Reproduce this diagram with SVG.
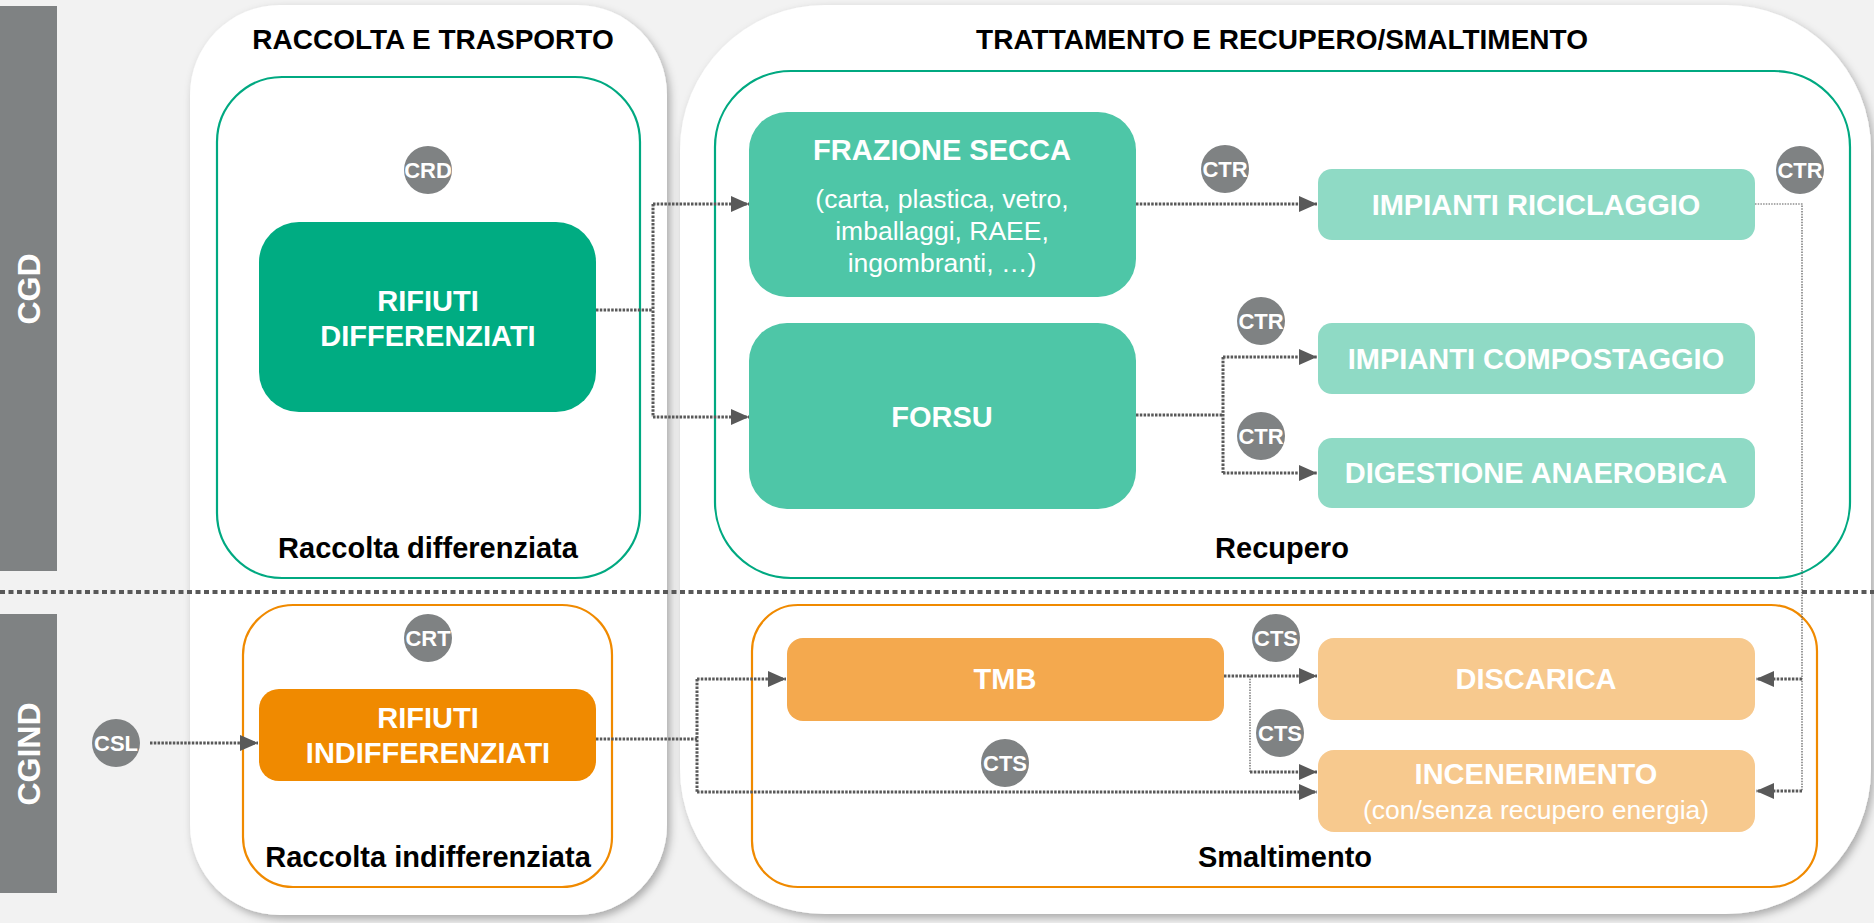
<svg xmlns="http://www.w3.org/2000/svg" width="1874" height="923" viewBox="0 0 1874 923">
<defs>
<style>
text{font-family:"Liberation Sans",Arial,sans-serif;}
.b{font-weight:bold;}
.w{fill:#ffffff;}
.k{fill:#000000;}
.bar{fill:#7f8283;}
.panel{fill:#ffffff;filter:url(#sh);}
.gbox{fill:none;stroke:#00a981;stroke-width:2.2;}
.obox{fill:none;stroke:#f08a00;stroke-width:2.2;}
.c{fill:#7f8283;}
.ct{font-weight:bold;font-size:22px;fill:#ffffff;text-anchor:middle;}
.lab{font-weight:bold;font-size:29px;text-anchor:middle;}
.sub{font-size:26.5px;fill:#ffffff;text-anchor:middle;}
.con{fill:none;stroke:#595959;stroke-width:3;stroke-dasharray:2.5 1.3;}
.thin{fill:none;stroke:#595959;stroke-width:1.2;stroke-dasharray:1.5 1.2;}
.arr{marker-end:url(#ah);}
</style>
<filter id="sh" x="-5%" y="-5%" width="112%" height="112%">
<feDropShadow dx="3" dy="4" stdDeviation="4" flood-color="#000000" flood-opacity="0.3"/>
</filter>
<marker id="ah" markerUnits="userSpaceOnUse" markerWidth="18" markerHeight="16" viewBox="0 0 18 16" refX="18" refY="8" orient="auto">
<path d="M0,0 L18,8 L0,16 Z" fill="#595959"/>
</marker>
</defs>
<rect x="0" y="0" width="1874" height="923" fill="#f2f2f2"/>

<g id="lane-cgd">
<rect class="bar" x="0" y="6" width="57" height="565"/>
<text class="b w" font-size="32" text-anchor="middle" transform="rotate(-90 29 289)" x="29" y="300">CGD</text>
</g>
<g id="lane-cgind">
<rect class="bar" x="0" y="614" width="57" height="279"/>
<text class="b w" font-size="32" text-anchor="middle" transform="rotate(-90 29 754)" x="29" y="765">CGIND</text>
</g>

<g id="panel-raccolta">
<rect class="panel" x="190" y="5" width="477" height="910" rx="90"/>
<text class="b k" font-size="28" text-anchor="middle" x="433" y="49">RACCOLTA E TRASPORTO</text>
</g>
<g id="panel-trattamento">
<rect class="panel" x="680" y="5" width="1191" height="909" rx="145"/>
<text class="b k" font-size="28" text-anchor="middle" x="1282" y="49">TRATTAMENTO E RECUPERO/SMALTIMENTO</text>
</g>

<g id="group-raccolta-differenziata">
<rect class="gbox" x="217" y="77" width="423" height="501" rx="65"/>
<text class="lab k" x="428" y="558">Raccolta differenziata</text>
</g>
<g id="group-recupero">
<rect class="gbox" x="715" y="71" width="1135" height="507" rx="76"/>
<text class="lab k" x="1282" y="558">Recupero</text>
</g>
<g id="group-raccolta-indifferenziata">
<rect class="obox" x="243" y="605" width="369" height="282" rx="50"/>
<text class="lab k" x="428" y="867">Raccolta indifferenziata</text>
</g>
<g id="group-smaltimento">
<rect class="obox" x="752" y="605" width="1065" height="282" rx="46"/>
<text class="lab k" x="1285" y="867">Smaltimento</text>
</g>

<g id="node-rifiuti-differenziati">
<rect x="259" y="222" width="337" height="190" rx="40" fill="#00ac82"/>
<text class="lab w" x="428" y="311">RIFIUTI</text>
<text class="lab w" x="428" y="346">DIFFERENZIATI</text>
</g>
<g id="node-frazione-secca">
<rect x="749" y="112" width="387" height="185" rx="38" fill="#4ec6a7"/>
<text class="lab w" x="942" y="160">FRAZIONE SECCA</text>
<text class="sub" x="942" y="208">(carta, plastica, vetro,</text>
<text class="sub" x="942" y="240">imballaggi, RAEE,</text>
<text class="sub" x="942" y="272">ingombranti, …)</text>
</g>
<g id="node-forsu">
<rect x="749" y="323" width="387" height="186" rx="38" fill="#4ec6a7"/>
<text class="lab w" x="942" y="427">FORSU</text>
</g>
<g id="node-riciclaggio">
<rect x="1318" y="169" width="437" height="71" rx="14" fill="#8fdac5"/>
<text class="lab w" x="1536" y="215">IMPIANTI RICICLAGGIO</text>
</g>
<g id="node-compostaggio">
<rect x="1318" y="323" width="437" height="71" rx="14" fill="#8fdac5"/>
<text class="lab w" x="1536" y="369">IMPIANTI COMPOSTAGGIO</text>
</g>
<g id="node-digestione">
<rect x="1318" y="438" width="437" height="70" rx="14" fill="#8fdac5"/>
<text class="lab w" x="1536" y="483">DIGESTIONE ANAEROBICA</text>
</g>
<g id="node-rifiuti-indifferenziati">
<rect x="259" y="689" width="337" height="92" rx="20" fill="#f08a00"/>
<text class="lab w" x="428" y="728">RIFIUTI</text>
<text class="lab w" x="428" y="763">INDIFFERENZIATI</text>
</g>
<g id="node-tmb">
<rect x="787" y="638" width="437" height="83" rx="16" fill="#f4a94e"/>
<text class="lab w" x="1005" y="689">TMB</text>
</g>
<g id="node-discarica">
<rect x="1318" y="638" width="437" height="82" rx="16" fill="#f7c98e"/>
<text class="lab w" x="1536" y="689">DISCARICA</text>
</g>
<g id="node-incenerimento">
<rect x="1318" y="750" width="437" height="82" rx="16" fill="#f7c98e"/>
<text class="lab w" x="1536" y="784">INCENERIMENTO</text>
<text class="sub" font-size="28" x="1536" y="819">(con/senza recupero energia)</text>
</g>

<g id="connectors">
<path class="con" d="M596,310 H653"/>
<path class="con" d="M653,204 V417"/>
<path class="con arr" d="M653,204 H749"/>
<path class="con arr" d="M653,417 H749"/>
<path class="con arr" d="M1136,204 H1317"/>
<path class="con" d="M1136,415 H1223"/>
<path class="con" d="M1223,357 V473"/>
<path class="con arr" d="M1223,357 H1317"/>
<path class="con arr" d="M1223,473 H1317"/>
<path class="thin" d="M1755,204 H1802 V791"/>
<path class="con arr" d="M1802,679 H1756"/>
<path class="con arr" d="M1802,791 H1756"/>
<path class="con arr" d="M150,743 H258"/>
<path class="con" d="M596,739 H697"/>
<path class="con" d="M697,679 V792"/>
<path class="con arr" d="M697,679 H786"/>
<path class="con arr" d="M697,792 H1317"/>
<path class="con arr" d="M1224,676 H1317"/>
<path class="thin" d="M1250,676 V772"/>
<path class="con arr" d="M1250,772 H1317"/>
</g>

<g id="divider">
<line x1="0" y1="592" x2="1874" y2="592" stroke="#595959" stroke-width="4" stroke-dasharray="5 3.5"/>
</g>

<g id="badge-crd"><circle class="c" cx="428" cy="170" r="24"/><text class="ct" x="428" y="178">CRD</text></g>
<g id="badge-ctr-1"><circle class="c" cx="1225" cy="169" r="24"/><text class="ct" x="1225" y="177">CTR</text></g>
<g id="badge-ctr-2"><circle class="c" cx="1800" cy="170" r="24"/><text class="ct" x="1800" y="178">CTR</text></g>
<g id="badge-ctr-3"><circle class="c" cx="1261" cy="321" r="24"/><text class="ct" x="1261" y="329">CTR</text></g>
<g id="badge-ctr-4"><circle class="c" cx="1261" cy="436" r="24"/><text class="ct" x="1261" y="444">CTR</text></g>
<g id="badge-crt"><circle class="c" cx="428" cy="638" r="24"/><text class="ct" x="428" y="646">CRT</text></g>
<g id="badge-csl"><circle class="c" cx="116" cy="743" r="24"/><text class="ct" x="116" y="751">CSL</text></g>
<g id="badge-cts-1"><circle class="c" cx="1276" cy="638" r="24"/><text class="ct" x="1276" y="646">CTS</text></g>
<g id="badge-cts-2"><circle class="c" cx="1280" cy="733" r="24"/><text class="ct" x="1280" y="741">CTS</text></g>
<g id="badge-cts-3"><circle class="c" cx="1005" cy="763" r="24"/><text class="ct" x="1005" y="771">CTS</text></g>
</svg>
